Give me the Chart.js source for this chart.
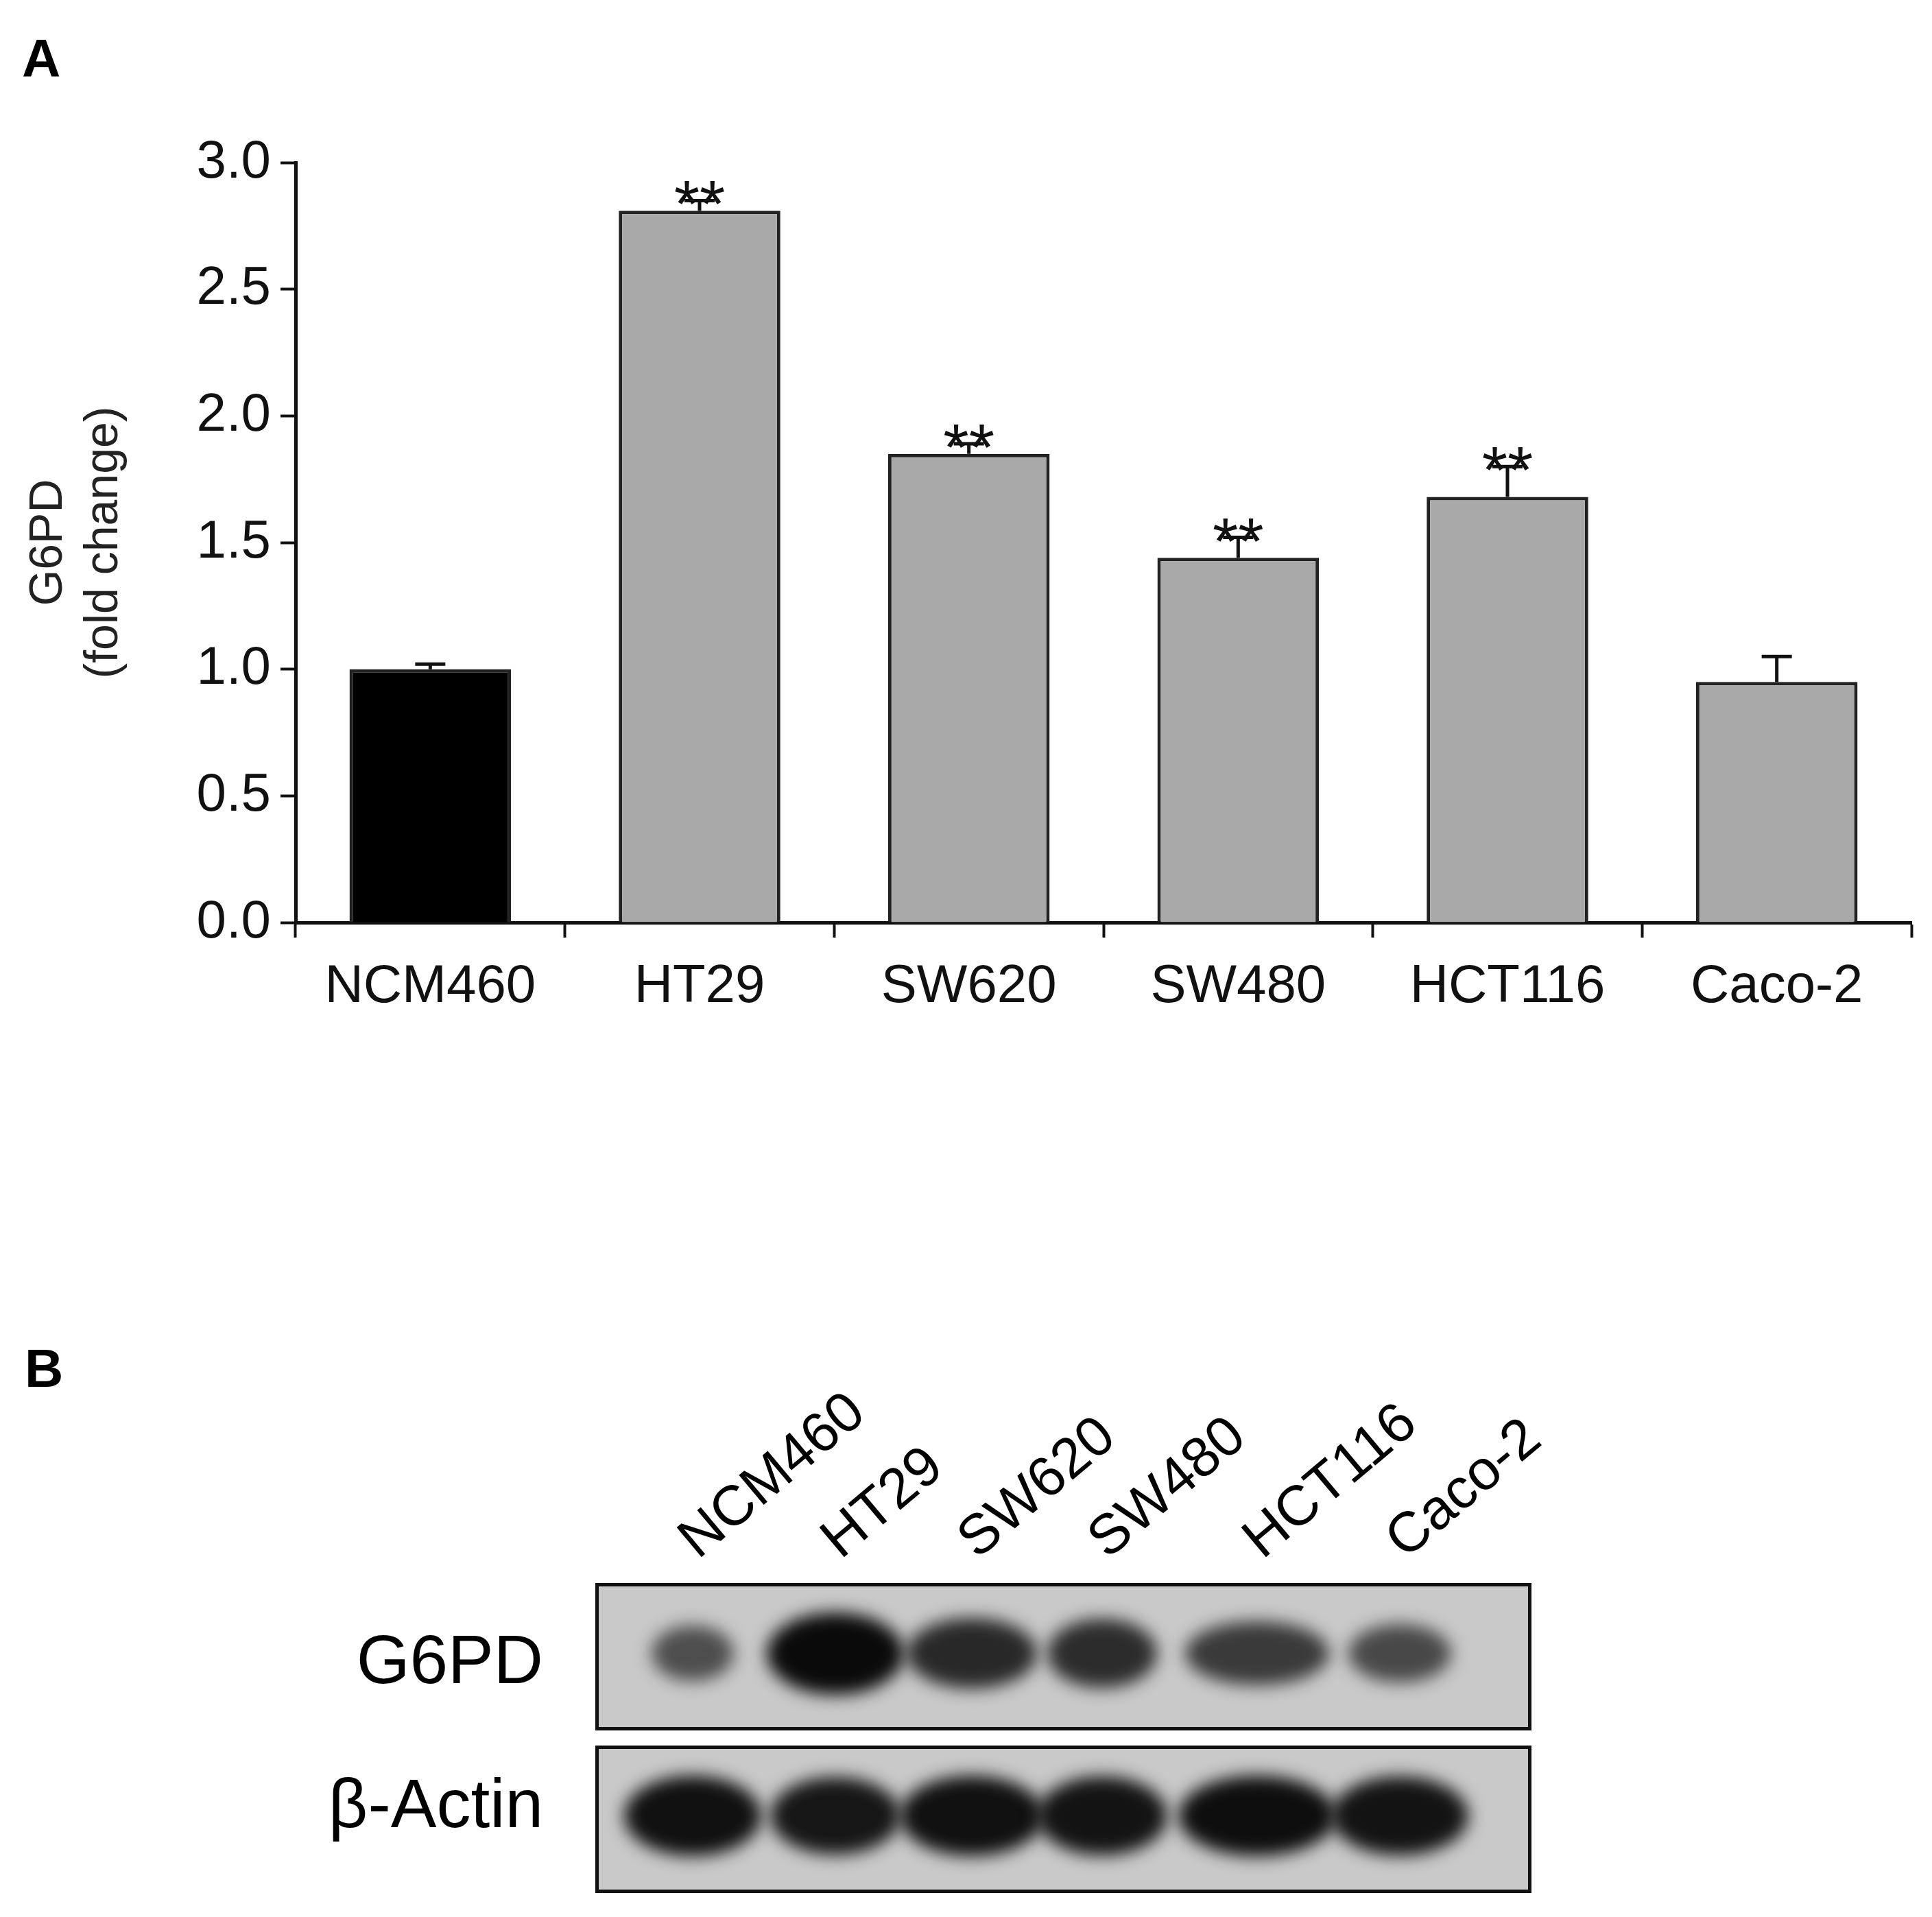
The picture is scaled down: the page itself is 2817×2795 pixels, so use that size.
<!DOCTYPE html>
<html>
<head>
<meta charset="utf-8">
<script src="https://cdn.jsdelivr.net/npm/chart.js@4"></script>
<style>
  body { margin: 0; background: #fff; width: 2817px; height: 2795px; position: relative; overflow: hidden;
         font-family: "Liberation Sans", Arial, sans-serif; }
  #chartWrap { position: absolute; left: 0; top: 0; width: 2817px; height: 1560px; }
  .panel { position: absolute; font-weight: bold; font-size: 78px; }
  .lane { position: absolute; font-size: 82px; transform-origin: 0 100%; transform: rotate(-40deg); white-space: nowrap; }
  .blot { position: absolute; left: 868px; width: 1355px; border: 5px solid #111; background: #c9c9c9; overflow: hidden; }
  .band { position: absolute; border-radius: 50%; }
  .rowlab { position: absolute; font-size: 100px; text-align: right; width: 700px; left: 92px; }
</style>
</head>
<body>
<div class="panel" style="left:32px;top:40px">A</div>
<div id="chartWrap"><canvas id="chart" width="2817" height="1560"></canvas></div>

<div class="panel" style="left:36px;top:1950px">B</div>
<div id="blotArea"></div>
<div class="rowlab" style="top:2362px">G6PD</div>
<div class="rowlab" style="top:2572px">β-Actin</div>

<script>
const cellLines = ["NCM460", "HT29", "SW620", "SW480", "HCT116", "Caco-2"];
const foldChange = [1.0, 2.81, 1.85, 1.44, 1.68, 0.95];
const errors = [0.02, 0.04, 0.04, 0.08, 0.12, 0.10];
const significance = ["", "**", "**", "**", "**", ""];
const barColors = ["#000000", "#a9a9a9", "#a9a9a9", "#a9a9a9", "#a9a9a9", "#a9a9a9"];
const yTicks = [0, 0.5, 1.0, 1.5, 2.0, 2.5, 3.0];

// western blot lanes (relative band intensity / width)
const laneCenters = [1005, 1213, 1412, 1602, 1828, 2036];
const g6pdBand = [0.45, 1.0, 0.75, 0.72, 0.62, 0.5];
const g6pdWidth = [120, 200, 190, 160, 210, 150];
const actinBand = [0.95, 0.9, 0.95, 0.92, 0.97, 0.92];
const actinWidth = [200, 190, 210, 190, 230, 200];

const errorBars = {
  id: "errorBars",
  afterDatasetsDraw(chart) {
    const ctx = chart.ctx;
    const meta = chart.getDatasetMeta(0);
    const y = chart.scales.y;
    ctx.save();
    ctx.strokeStyle = "#111";
    ctx.lineWidth = 5;
    meta.data.forEach((bar, i) => {
      const top = y.getPixelForValue(foldChange[i] + errors[i]);
      const base = y.getPixelForValue(foldChange[i]);
      ctx.beginPath();
      ctx.moveTo(bar.x, base);
      ctx.lineTo(bar.x, top);
      ctx.moveTo(bar.x - 22, top);
      ctx.lineTo(bar.x + 22, top);
      ctx.stroke();
      if (significance[i]) {
        ctx.fillStyle = "#111";
        ctx.font = "96px 'Liberation Sans', Arial";
        ctx.textAlign = "center";
        ctx.textBaseline = "alphabetic";
        ctx.fillText(significance[i], bar.x, top + 38);
      }
    });
    ctx.restore();
  }
};

new Chart(document.getElementById("chart"), {
  type: "bar",
  data: {
    labels: cellLines,
    datasets: [{
      data: foldChange,
      backgroundColor: barColors,
      borderColor: "#222",
      borderWidth: 5,
      categoryPercentage: 1.0,
      barPercentage: 0.6
    }]
  },
  options: {
    responsive: false,
    animation: false,
    layout: { padding: { top: 237, right: 30, left: 0, bottom: 0 } },
    plugins: { legend: { display: false }, tooltip: { enabled: false } },
    scales: {
      x: {
        grid: { offset: true, drawOnChartArea: false, color: "#111", tickLength: 22, tickWidth: 4 },
        border: { color: "#111", width: 5 },
        ticks: { color: "#111", font: { size: 78, family: "'Liberation Sans', Arial" }, padding: 26 },
        afterFit(s) { s.height = 215; }
      },
      y: {
        min: 0, max: 3.0,
        afterBuildTicks(s) { s.ticks = yTicks.map(v => ({ value: v })); },
        grid: { drawOnChartArea: false, color: "#111", tickLength: 22, tickWidth: 4 },
        border: { color: "#111", width: 5 },
        ticks: { color: "#111", font: { size: 78, family: "'Liberation Sans', Arial" }, padding: 14,
                 callback: v => v.toFixed(1) },
        title: { display: true, text: ["G6PD", "(fold change)"], color: "#222",
                 font: { size: 68, family: "'Liberation Sans', Arial" }, padding: { top: 30, bottom: 0 } },
        afterFit(s) { s.width = 431; }
      }
    }
  },
  plugins: [errorBars]
});

// blot panel
const area = document.getElementById("blotArea");
cellLines.forEach((name, i) => {
  const d = document.createElement("div");
  d.className = "lane";
  d.textContent = name;
  d.style.left = (laneCenters[i] + 25) + "px";
  d.style.top = (2290 - 95) + "px";
  area.appendChild(d);
});
function makeBlot(top, height, strength, widths) {
  const b = document.createElement("div");
  b.className = "blot";
  b.style.top = top + "px";
  b.style.height = height + "px";
  strength.forEach((s, i) => {
    const band = document.createElement("div");
    band.className = "band";
    const w = widths[i];
    const h = 50 + 70 * s;
    band.style.width = w + "px";
    band.style.height = h + "px";
    band.style.left = (laneCenters[i] - 868 - w / 2) + "px";
    band.style.top = (height / 2 - h / 2 - 5) + "px";
    band.style.background = `rgba(10,10,10,${0.35 + 0.65 * s})`;
    band.style.filter = "blur(12px)";
    b.appendChild(band);
  });
  area.appendChild(b);
}
makeBlot(2308, 205, g6pdBand, g6pdWidth);
makeBlot(2545, 205, actinBand, actinWidth);
</script>
</body>
</html>
